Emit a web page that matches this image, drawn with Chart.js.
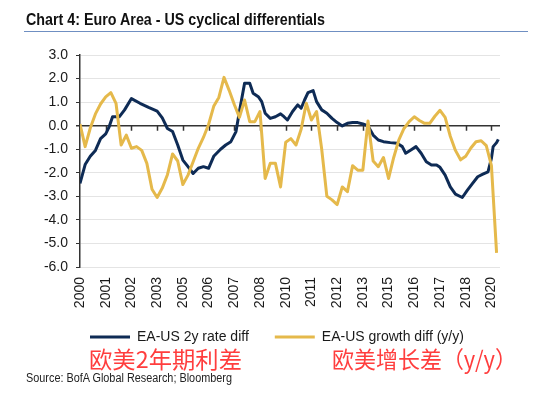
<!DOCTYPE html>
<html>
<head>
<meta charset="utf-8">
<script src="https://cdn.jsdelivr.net/npm/chart.js@4.4.1/dist/chart.umd.min.js"></script>
<style>
  html, body { margin: 0; padding: 0; background: #fff; }
  #wrap { position: relative; width: 550px; height: 396px; overflow: hidden; background: #fff; }
  #c { position: absolute; left: 0; top: 0; }
  .txt { position: absolute; white-space: nowrap; }
  #title { left: 26px; top: 10px; font: bold 16.5px/18px "Liberation Sans Narrow", "Arial Narrow", sans-serif; color: #111; transform-origin: 0 0; }
  #rule { position: absolute; left: 24px; top: 31px; width: 504px; height: 1px; background: #6f8fc2; }
  .cn { font: 23px/23px "Noto Sans CJK SC", sans-serif; color: #ff3d3d; top: 347px; transform-origin: 0 0; }
  #cn1 { left: 89px; }
  #cn2 { left: 332px; }
  #src { left: 26px; top: 371px; font: 12.5px/14px "Liberation Sans Narrow", "Arial Narrow", sans-serif; color: #222; transform-origin: 0 0; }
</style>
</head>
<body>
<div id="wrap">
  <canvas id="c" width="550" height="354"></canvas>
  <div id="title" class="txt">Chart 4: Euro Area - US cyclical differentials</div>
  <div id="rule"></div>
  <div id="cn1" class="txt cn">欧美2年期利差</div>
  <div id="cn2" class="txt cn">欧美增长差（y/y）</div>
  <div id="src" class="txt">Source: BofA Global Research; Bloomberg</div>
</div>
<script>
// X tick labels (one every 15 months starting Jan 2000)
const xTickLabels = ['2000','2001','2002','2003','2005','2006','2007','2008','2010','2011','2012','2013','2015','2016','2017','2018','2020'];

// EA-US 2y rate differential (months since Jan 2000, value)
const rateMonths = [0,3,6,9,12,15,17,19,23,26,30,35,40,45,48,51,54,57,60,63,66,69,72,75,78,82,85,88,91,93,96,99,101,104,106,108,111,114,117,119,121,124,127,129,131,133,136,138,141,144,147,150,153,156,159,162,165,168,171,174,177,181,185,188,190,193,196,199,202,205,208,210,213,216,219,223,226,229,232,235,238,240,241,243,244];
const rateValues = [-2.45,-1.65,-1.3,-1.05,-0.55,-0.35,-0.05,0.38,0.38,0.67,1.15,0.95,0.78,0.62,0.33,-0.12,-0.25,-0.82,-1.46,-1.74,-2.03,-1.81,-1.74,-1.81,-1.3,-1.0,-0.82,-0.68,-0.25,0.6,1.8,1.8,1.38,1.23,1.02,0.53,0.31,0.38,0.5,0.38,0.24,0.6,0.88,0.74,1.09,1.4,1.49,1.02,0.67,0.53,0.31,0.13,-0.01,0.1,0.13,0.13,0.07,-0.01,-0.4,-0.61,-0.68,-0.72,-0.75,-0.89,-1.17,-1.03,-0.89,-1.17,-1.53,-1.67,-1.67,-1.77,-2.1,-2.6,-2.91,-3.05,-2.74,-2.45,-2.17,-2.06,-1.96,-1.39,-0.89,-0.72,-0.58];

// EA-US growth differential y/y (quarterly, months since Jan 2000, value)
const growthMonths = [0,3,6,9,12,15,18,21,24,27,30,33,36,39,42,45,48,51,54,57,60,63,66,69,72,75,78,81,84,87,90,93,96,99,102,105,108,111,114,117,120,123,126,129,132,135,138,141,144,147,150,153,156,159,162,165,168,171,174,177,180,183,186,189,192,195,198,201,204,207,210,213,216,219,222,225,228,231,234,237,240,243];
const growthValues = [0.07,-0.89,-0.1,0.5,0.92,1.22,1.4,0.95,-0.82,-0.4,-0.96,-0.89,-1.05,-1.6,-2.7,-3.05,-2.65,-2.08,-1.2,-1.5,-2.5,-2.1,-1.53,-0.96,-0.5,0.05,0.82,1.2,2.05,1.5,0.9,0.35,1.09,0.17,0.17,0.6,-2.24,-1.6,-1.6,-2.6,-0.7,-0.55,-0.82,-0.15,0.95,0.24,0.6,-1.0,-3.0,-3.15,-3.35,-2.6,-2.8,-1.7,-1.89,-1.89,0.2,-1.5,-1.74,-1.35,-2.24,-1.35,-0.6,-0.12,0.17,0.38,0.22,0.1,0.1,0.4,0.65,0.35,-0.45,-1.05,-1.45,-1.3,-0.95,-0.68,-0.64,-0.85,-1.7,-5.4];

const seriesNames = ['EA-US 2y rate diff', 'EA-US growth diff (y/y)'];
const NAVY = '#0e2b55';
const GOLD = '#e5b94b';

const toPoints = (xs, ys) => xs.map((x, i) => ({ x: x, y: ys[i] }));

Chart.defaults.font.family = '"Liberation Sans", Arial, sans-serif';
Chart.defaults.color = '#1a1a1a';

const zeroTicks = {
  id: 'zeroTicks',
  beforeDatasetsDraw(chart) {
    const xs = chart.scales.x, ys = chart.scales.y;
    const y0 = ys.getPixelForValue(0);
    const ctx = chart.ctx;
    ctx.save();
    ctx.strokeStyle = '#333';
    ctx.lineWidth = 1.5;
    ctx.beginPath();
    xs.ticks.forEach(t => {
      const px = Math.round(xs.getPixelForValue(t.value)) + 0.5;
      ctx.moveTo(px, y0);
      ctx.lineTo(px, y0 + 5);
    });
    ctx.stroke();
    ctx.restore();
  }
};

// let tick labels extend beyond the (deliberately narrow) scale boxes
const noLabelClip = (s) => { s._computeLabelArea = () => null; };

new Chart(document.getElementById('c'), {
  type: 'line',
  data: {
    datasets: [
      { label: seriesNames[0], data: toPoints(rateMonths, rateValues), borderColor: NAVY, backgroundColor: NAVY,
        borderWidth: 3, pointRadius: 0, tension: 0, fill: false, borderJoinStyle: 'round', order: 1 },
      { label: seriesNames[1], data: toPoints(growthMonths, growthValues), borderColor: GOLD, backgroundColor: GOLD,
        borderWidth: 3, pointRadius: 0, tension: 0, fill: false, borderJoinStyle: 'round', order: 0 }
    ]
  },
  options: {
    responsive: false,
    animation: false,
    layout: { padding: { left: 64, right: 50, top: 55, bottom: 0 } },
    plugins: {
      tooltip: { enabled: false },
      title: { display: false },
      legend: {
        position: 'bottom',
        align: 'start',
        labels: {
          usePointStyle: true,
          pointStyle: 'line',
          pointStyleWidth: 40,
          padding: 26,
          font: { size: 14 },
          color: '#1a1a1a',
          sort: (a, b) => a.datasetIndex - b.datasetIndex
        }
      }
    },
    scales: {
      x: {
        type: 'linear',
        min: 0,
        max: 245,
        border: { display: false },
        grid: { display: false, drawTicks: false },
        ticks: {
          stepSize: 15,
          includeBounds: false,
          autoSkip: false,
          minRotation: 90,
          maxRotation: 90,
          padding: 10,
          font: { size: 14 },
          color: '#1a1a1a',
          callback: (v) => (v % 15 === 0 ? xTickLabels[v / 15] : '')
        },
        afterFit: (s) => { s.height = 37; noLabelClip(s); }
      },
      y: {
        min: -6,
        max: 3,
        border: { display: true, color: '#333', width: 1.5 },
        grid: {
          color: (c) => (c.tick && c.tick.value === 0 ? '#333' : '#e4e4e4'),
          lineWidth: (c) => (c.tick && c.tick.value === 0 ? 1.5 : 1),
          tickColor: '#333',
          tickLength: 4,
          drawTicks: true
        },
        ticks: {
          stepSize: 1,
          padding: 8,
          font: { size: 14 },
          color: '#1a1a1a',
          callback: (v) => Number(v).toFixed(1)
        },
        afterFit: (s) => { s.width = 16; noLabelClip(s); }
      }
    }
  },
  plugins: [zeroTicks]
});

function fitWidth(id, target) {
  const el = document.getElementById(id);
  const w = el.getBoundingClientRect().width;
  if (w > 0) el.style.transform = 'scaleX(' + (target / w) + ')';
}
fitWidth('title', 299);
fitWidth('src', 206);
fitWidth('cn1', 153);
fitWidth('cn2', 185);
</script>
</body>
</html>
